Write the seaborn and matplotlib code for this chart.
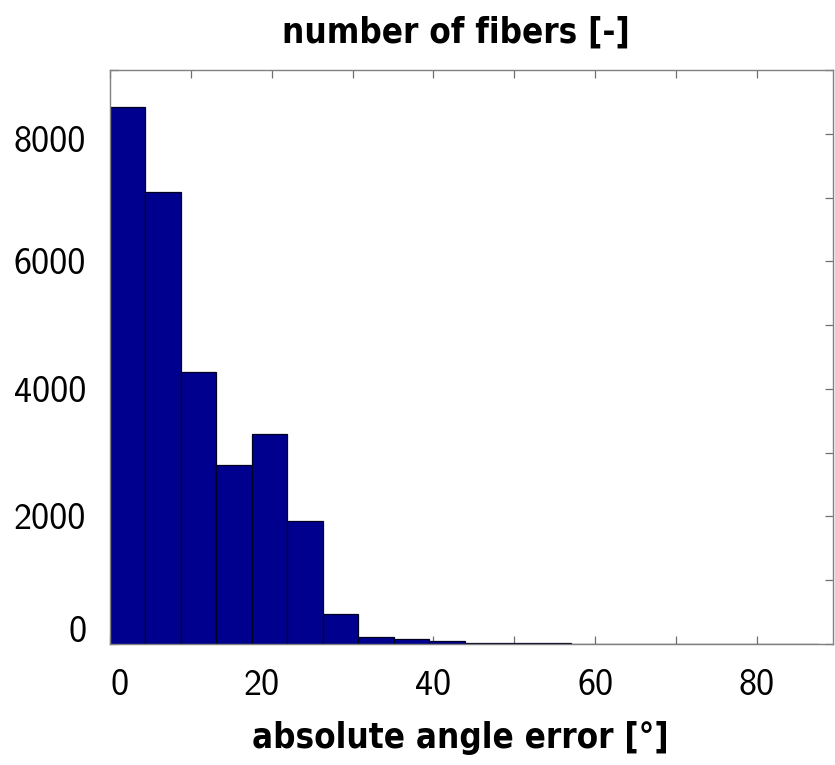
import numpy as np
import pandas as pd
import matplotlib
matplotlib.use("Agg")
import matplotlib.pyplot as plt
from matplotlib.ticker import MultipleLocator
from matplotlib.transforms import ScaledTranslation
import seaborn as sns

# --- data ---
bin_width = 4.385  # degrees per bin
counts = [8420, 7080, 4260, 2810, 3300, 1935, 475, 115, 74, 45,
          22, 15, 10, 5, 3, 4, 4, 1, 1, 4]
x_major = [0, 20, 40, 60, 80]
y_major = [0, 2000, 4000, 6000, 8000]

title_txt = 'number of fibers [-]'
xlabel_txt = 'absolute angle error [°]'

# --- style ---
sns.set_theme(style="ticks")
plt.rcParams['font.family'] = ['cmss10', 'DejaVu Sans']
plt.rcParams['axes.unicode_minus'] = False
plt.rcParams['axes.formatter.use_mathtext'] = False

edges = np.arange(len(counts) + 1) * bin_width
df = pd.DataFrame({'angle': edges[:-1] + bin_width / 2, 'count': counts})

fig = plt.figure(figsize=(8.35, 7.65), dpi=100)
ax = fig.add_axes([0.1317, 0.1582, 0.8659, 0.7503])

sns.histplot(data=df, x='angle', weights='count', bins=list(edges),
             color='#00008F', edgecolor='#000020', linewidth=0.9,
             alpha=1.0, ax=ax)

ax.set_xlim(0, 89.4)
ax.set_ylim(0, 9000)
ax.set_xticks(x_major)
ax.set_yticks(y_major)
ax.xaxis.set_minor_locator(MultipleLocator(10))
ax.yaxis.set_minor_locator(MultipleLocator(1000))

for s in ax.spines.values():
    s.set_color('#808080')
    s.set_linewidth(1.0)

ax.tick_params(which='both', direction='in', length=6, width=0.9,
               color='#707070', top=True, right=True)
ax.tick_params(axis='x', labelsize=26, pad=18, labelcolor='black')
ax.tick_params(axis='y', labelsize=26, pad=17, labelcolor='black')

# the reference nudges a few tick labels away from the corner
px = 1 / 100
xl = ax.get_xticklabels()
yl = ax.get_yticklabels()
xl[0].set_transform(xl[0].get_transform() + ScaledTranslation(10 * px, 0, fig.dpi_scale_trans))
xl[1].set_transform(xl[1].get_transform() + ScaledTranslation(-10 * px, 0, fig.dpi_scale_trans))
yl[0].set_transform(yl[0].get_transform() + ScaledTranslation(0, 15 * px, fig.dpi_scale_trans))
yl[-1].set_transform(yl[-1].get_transform() + ScaledTranslation(0, -5 * px, fig.dpi_scale_trans))

ax.set_ylabel('')
ax.set_title(title_txt, fontsize=25, fontweight='bold', color='black',
             family='DejaVu Sans', fontstretch='condensed', x=0.4786, pad=20)
ax.set_xlabel(xlabel_txt, fontsize=25, fontweight='bold', color='black',
              family='DejaVu Sans', fontstretch='condensed')
ax.xaxis.set_label_coords(0.484, -0.135)

fig.savefig('out.png', dpi=100)
